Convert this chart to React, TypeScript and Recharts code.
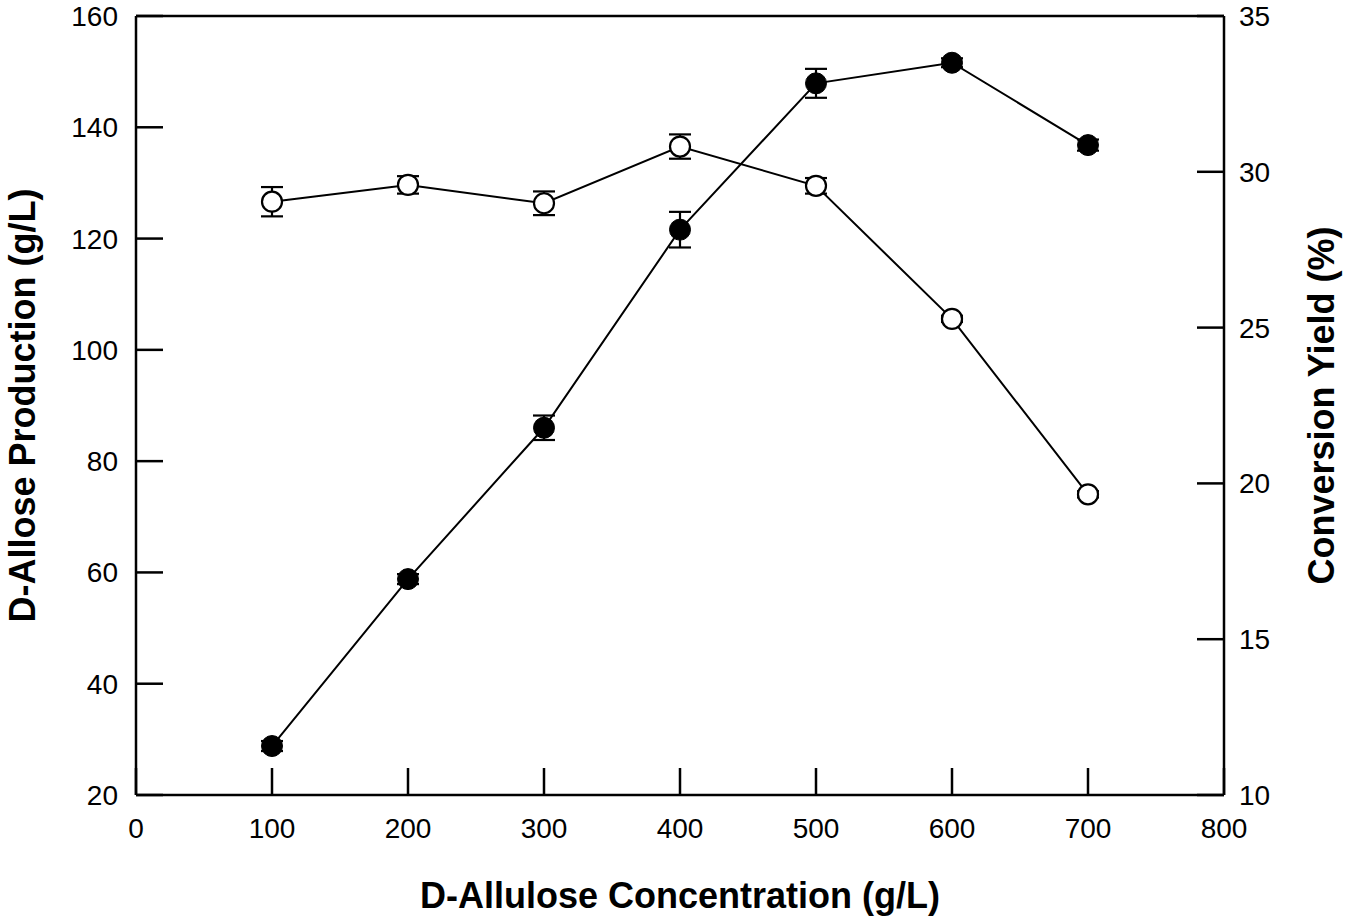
import React from "react"
import {
  ComposedChart,
  Line,
  XAxis,
  YAxis,
  ErrorBar,
} from "recharts"

// substrate concentration (g/L)
const concentrations = [100, 200, 300, 400, 500, 600, 700]
// D-allose produced (g/L) and its error
const alloseProduction = [28.8, 58.8, 86.0, 121.6, 147.9, 151.6, 136.8]
const productionError = [0.9, 0.9, 2.2, 3.2, 2.6, 0.8, 1.0]
// conversion yield (%) and its error
const conversionYield = [29.04, 29.58, 28.99, 30.81, 29.55, 25.28, 19.65]
const yieldError = [0.47, 0.28, 0.38, 0.39, 0.25, 0.1, 0.1]

const xTicks = [0, 100, 200, 300, 400, 500, 600, 700, 800]
const leftTicks = [20, 40, 60, 80, 100, 120, 140, 160]
const rightTicks = [10, 15, 20, 25, 30, 35]

const data = concentrations.map((c, i) => ({
  c,
  prod: alloseProduction[i],
  prodErr: productionError[i],
  yld: conversionYield[i],
  yldErr: yieldError[i],
}))

const FONT = '"Liberation Sans", Arial, sans-serif'
const TICK_LEN = 27
const AXIS_W = 2.5

function BottomTick(props: any) {
  const { x, y, payload } = props
  return (
    <g>
      <line x1={x} y1={y} x2={x} y2={y - TICK_LEN} stroke="#000" strokeWidth={AXIS_W} />
      <text x={x} y={y + 43} textAnchor="middle" fontSize={28} fill="#000" fontFamily={FONT}>
        {payload.value}
      </text>
    </g>
  )
}

function LeftTick(props: any) {
  const { x, y, payload } = props
  return (
    <g>
      <line x1={x} y1={y} x2={x + TICK_LEN} y2={y} stroke="#000" strokeWidth={AXIS_W} />
      <text x={x - 18} y={y + 10} textAnchor="end" fontSize={28} fill="#000" fontFamily={FONT}>
        {payload.value}
      </text>
    </g>
  )
}

function RightTick(props: any) {
  const { x, y, payload } = props
  return (
    <g>
      <line x1={x} y1={y} x2={x - TICK_LEN} y2={y} stroke="#000" strokeWidth={AXIS_W} />
      <text x={x + 15} y={y + 10} textAnchor="start" fontSize={28} fill="#000" fontFamily={FONT}>
        {payload.value}
      </text>
    </g>
  )
}

function vTitle(text: string, dx: number) {
  return (p: any) => {
    const vb = p.viewBox
    const cx = vb.x + dx
    const cy = vb.y + vb.height / 2
    return (
      <text
        x={cx}
        y={cy}
        transform={`rotate(-90 ${cx} ${cy})`}
        textAnchor="middle"
        fontSize={36}
        fontWeight="bold"
        fill="#000"
        fontFamily={FONT}
      >
        {text}
      </text>
    )
  }
}

function xTitle(p: any) {
  const vb = p.viewBox
  return (
    <text
      x={vb.x + vb.width / 2}
      y={vb.y + 113}
      textAnchor="middle"
      fontSize={36}
      fontWeight="bold"
      fill="#000"
      fontFamily={FONT}
    >
      D-Allulose Concentration (g/L)
    </text>
  )
}

export default function App() {
  return (
    <div style={{ fontFamily: FONT }}>
      <style>{"body{margin:0}"}</style>
      <ComposedChart
        width={1347}
        height={920}
        data={data}
        margin={{ top: 0, right: 0, bottom: 0, left: 0 }}
      >
        <XAxis
          xAxisId="x"
          dataKey="c"
          type="number"
          domain={[0, 800]}
          ticks={xTicks}
          interval={0}
          height={125}
          tickSize={0}
          tickMargin={0}
          tickLine={false}
          tick={BottomTick}
          axisLine={{ stroke: "#000", strokeWidth: AXIS_W }}
          label={{ content: xTitle }}
        />
        <XAxis
          xAxisId="top"
          orientation="top"
          type="number"
          domain={[0, 800]}
          height={16}
          tick={false}
          tickLine={false}
          axisLine={{ stroke: "#000", strokeWidth: AXIS_W }}
        />
        <YAxis
          yAxisId="left"
          type="number"
          domain={[20, 160]}
          ticks={leftTicks}
          interval={0}
          width={136}
          tickSize={0}
          tickMargin={0}
          tickLine={false}
          tick={LeftTick}
          axisLine={{ stroke: "#000", strokeWidth: AXIS_W }}
          label={{ content: vTitle("D-Allose Production (g/L)", 35) }}
        />
        <YAxis
          yAxisId="right"
          orientation="right"
          type="number"
          domain={[10, 35]}
          ticks={rightTicks}
          interval={0}
          width={123}
          tickSize={0}
          tickMargin={0}
          tickLine={false}
          tick={RightTick}
          axisLine={{ stroke: "#000", strokeWidth: AXIS_W }}
          label={{ content: vTitle("Conversion Yield (%)", 110) }}
        />
        <Line
          xAxisId="x"
          yAxisId="right"
          dataKey="yld"
          type="linear"
          stroke="#000"
          strokeWidth={2}
          dot={{ r: 10, fill: "#fff", stroke: "#000", strokeWidth: 2.2 }}
          activeDot={false}
          isAnimationActive={false}
        >
          <ErrorBar dataKey="yldErr" direction="y" width={11} stroke="#000" strokeWidth={2.2} />
        </Line>
        <Line
          xAxisId="x"
          yAxisId="left"
          dataKey="prod"
          type="linear"
          stroke="#000"
          strokeWidth={2}
          dot={{ r: 10.5, fill: "#000", stroke: "#000", strokeWidth: 1 }}
          activeDot={false}
          isAnimationActive={false}
        >
          <ErrorBar dataKey="prodErr" direction="y" width={11} stroke="#000" strokeWidth={2.2} />
        </Line>
      </ComposedChart>
    </div>
  )
}
